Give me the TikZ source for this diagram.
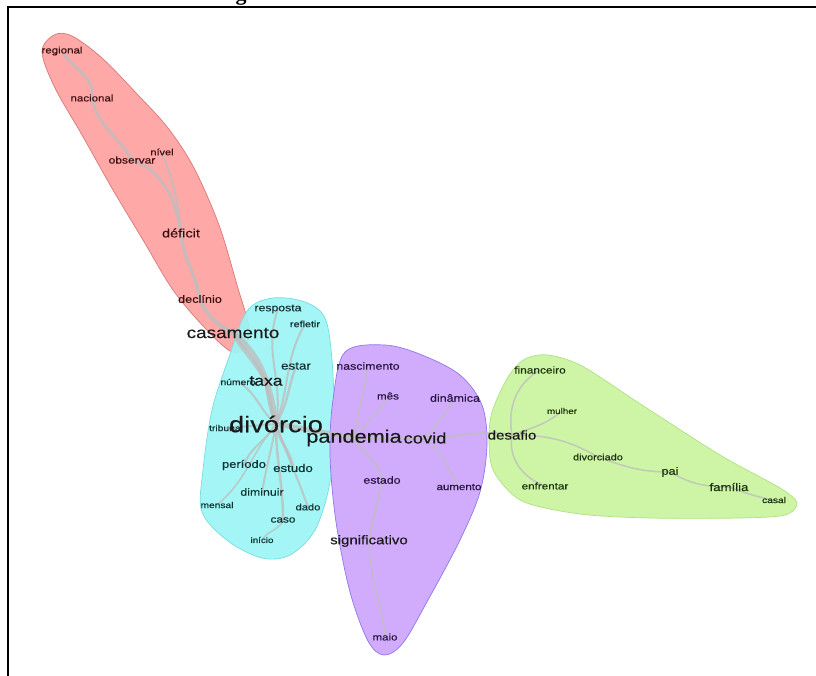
\documentclass[tikz,border=0pt]{standalone}
\usepackage{fontspec}
\newfontfamily\lab[FakeStretch=1.2,FakeBold=0.3]{Liberation Sans}
\newfontfamily\ttl{Liberation Serif}
\pgfdeclarelayer{blobs}
\pgfdeclarelayer{links}
\pgfsetlayers{blobs,links,main}
\definecolor{redfill}{RGB}{255,168,168}
\definecolor{redline}{RGB}{215,120,120}
\definecolor{cyanfill}{RGB}{156,245,245}
\definecolor{cyanline}{RGB}{120,220,225}
\definecolor{purfill}{RGB}{210,172,252}
\definecolor{purline}{RGB}{140,120,235}
\definecolor{grnfill}{RGB}{206,245,166}
\definecolor{grnline}{RGB}{175,225,130}
\definecolor{redtxt}{RGB}{60,15,15}
\definecolor{cyantxt}{RGB}{15,50,50}
\definecolor{purtxt}{RGB}{40,20,65}
\definecolor{grntxt}{RGB}{25,50,10}
\definecolor{bigtxt}{RGB}{25,25,25}
\definecolor{linkc}{RGB}{190,190,190}
\begin{document}
\begin{tikzpicture}[x=1pt,y=-1pt,
  wd/.style 2 args={font=\lab\fontsize{#1}{#1}\selectfont, text=#2, inner sep=0pt, anchor=center},
  lk/.style={draw=linkc, draw opacity=0.8, line width=#1, line cap=round},
  blob/.style={line width=0.7pt}]
\useasboundingbox (0,0) rectangle (816,675);
% frame
\draw[line width=2pt] (816,7) -- (8,7) -- (8,676);
\node[font=\ttl\bfseries\fontsize{22}{22}\selectfont, anchor=base, inner sep=0pt] (ttlg) at (241,0.5) {g};
% red cluster
\node[wd={9.6}{redtxt}] (regional) at (62,51) {regional};
\node[wd={9.6}{redtxt}] (nacional) at (92,98) {nacional};
\node[wd={9.1}{redtxt}] (nivel) at (162,152) {nível};
\node[wd={10}{redtxt}] (observar) at (132,160) {observar};
\node[wd={12.1}{redtxt}] (deficit) at (181,233) {déficit};
\node[wd={10.6}{redtxt}] (declinio) at (200,299) {declínio};
\node[wd={15.8}{bigtxt}] (casamento) at (233,333) {casamento};
% cyan cluster
\node[wd={10.2}{cyantxt}] (resposta) at (278,309) {resposta};
\node[wd={9}{cyantxt}] (refletir) at (305,324) {refletir};
\node[wd={11.2}{cyantxt}] (estar) at (296,366) {estar};
\node[wd={8.6}{cyantxt}] (numero) at (238,382) {número};
\node[wd={14.6}{bigtxt}] (taxa) at (266,381) {taxa};
\node[wd={8.6}{cyantxt}] (tribunal) at (226,428) {tribunal};
\node[wd={22.7}{bigtxt}] (divorcio) at (276,424) {divórcio};
\node[wd={10.8}{cyantxt}] (periodo) at (244,465) {período};
\node[wd={11}{cyantxt}] (estudo) at (293,468) {estudo};
\node[wd={10.3}{cyantxt}] (diminuir) at (262,492) {diminuir};
\node[wd={8.5}{cyantxt}] (mensal) at (217,505) {mensal};
\node[wd={9.3}{cyantxt}] (dado) at (308,507) {dado};
\node[wd={9.8}{cyantxt}] (caso) at (283,520) {caso};
\node[wd={8.2}{cyantxt}] (inicio) at (262,540) {início};
% purple cluster
\node[wd={10.3}{purtxt}] (nascimento) at (368,366) {nascimento};
\node[wd={9.7}{purtxt}] (mes) at (388,396) {mês};
\node[wd={10.4}{purtxt}] (dinamica) at (455,398) {dinâmica};
\node[wd={18.1}{bigtxt}] (pandemia) at (354,438) {pandemia};
\node[wd={15.3}{bigtxt}] (covid) at (425,438) {covid};
\node[wd={10.3}{purtxt}] (estado) at (382,480) {estado};
\node[wd={9.6}{purtxt}] (aumento) at (459,487) {aumento};
\node[wd={12.5}{bigtxt}] (significativo) at (369,541) {significativo};
\node[wd={9.6}{purtxt}] (maio) at (385,637) {maio};
% green cluster
\node[wd={9.9}{grntxt}] (financeiro) at (540,370) {financeiro};
\node[wd={8.2}{grntxt}] (mulher) at (562,411) {mulher};
\node[wd={12.6}{bigtxt}] (desafio) at (512,435) {desafio};
\node[wd={9.1}{grntxt}] (divorciado) at (598,457) {divorciado};
\node[wd={10.6}{grntxt}] (pai) at (670,472) {pai};
\node[wd={11}{grntxt}] (familia) at (729,487) {família};
\node[wd={9.7}{grntxt}] (enfrentar) at (545,486) {enfrentar};
\node[wd={8.5}{grntxt}] (casal) at (774,500) {casal};

\begin{pgfonlayer}{blobs}
\filldraw[blob, fill=redfill, draw=redline] plot[smooth cycle, tension=0.55] coordinates {
 (42,52) (54,35) (72,36) (102,58) (138,95) (168,128) (194,168) (219,225)
 (237,285) (249,328) (244,349) (230,351) (204,327) (173,290) (143,240)
 (113,190) (82,135) (55,88)};
\filldraw[blob, fill=cyanfill, draw=cyanline, fill opacity=0.92] plot[smooth cycle, tension=0.55] coordinates {
 (247,311) (273,298) (305,302) (325,318) (332,360) (334,420) (330,482)
 (315,530) (290,555) (262,558) (228,541) (202,512) (203,470) (212,410) (228,360)};
\filldraw[blob, fill=purfill, draw=purline] plot[smooth cycle, tension=0.55] coordinates {
 (345,352) (385,345) (422,355) (460,375) (482,405) (487,445) (480,492)
 (460,540) (428,600) (403,643) (384,655) (368,641) (350,592) (336,522)
 (330,455) (333,400)};
\filldraw[blob, fill=grnfill, draw=grnline] plot[smooth cycle, tension=0.5] coordinates {
 (492,412) (508,377) (525,359) (548,355) (582,366) (642,405) (720,455)
 (780,488) (797,503) (785,515) (740,518) (650,518) (580,514) (522,501)
 (494,472) (489,442)};
\end{pgfonlayer}

\begin{pgfonlayer}{links}
% red
\draw[lk=3] (regional.center) to[out=-60,in=80] (nacional.center);
\draw[lk=3] (nacional.center) to[out=-80,in=120] (observar.center);
\draw[lk=3] (observar.center) to[out=-20,in=100] (deficit.center);
\draw[lk=2] (nivel.center) to[out=-70,in=95] (deficit.center);
\draw[lk=3.5] (deficit.center) to[out=-85,in=100] (declinio.center);
\draw[lk=4] (declinio.center) to[out=-70,in=150] (casamento.center);
% cyan
\draw[lk=6] (casamento.center) to[out=-40,in=100] (divorcio.center);
\draw[lk=4] (casamento.center) to[out=-60,in=120] (taxa.center);
\draw[lk=4] (taxa.center) to[out=-80,in=110] (divorcio.center);
\draw[lk=2] (resposta.center) to[out=-110,in=80] (divorcio.center);
\draw[lk=2] (refletir.center) to[out=-120,in=70] (divorcio.center);
\draw[lk=2.5] (estar.center) to[out=-110,in=60] (divorcio.center);
\draw[lk=2] (numero.center) to[out=-30,in=140] (divorcio.center);
\draw[lk=2] (tribunal.center) to (divorcio.center);
\draw[lk=2] (divorcio.center) to[out=-120,in=70] (periodo.center);
\draw[lk=3] (divorcio.center) to[out=-80,in=100] (estudo.center);
\draw[lk=2] (divorcio.center) to[out=-100,in=80] (diminuir.center);
\draw[lk=1.5] (divorcio.center) to[out=-130,in=40] (mensal.center);
\draw[lk=2] (divorcio.center) to[out=-70,in=110] (dado.center);
\draw[lk=2.5] (divorcio.center) to[out=-90,in=90] (caso.center);
\draw[lk=1.5] (caso.center) to[out=-110,in=60] (inicio.center);
\draw[lk=5] (divorcio.center) to[out=-10,in=170] (pandemia.center);
% purple
\draw[lk=1.5] (pandemia.center) to[out=80,in=-100] (nascimento.center);
\draw[lk=1.5] (pandemia.center) to[out=50,in=-120] (mes.center);
\draw[lk=3] (pandemia.center) to (covid.center);
\draw[lk=2] (pandemia.center) to[out=-60,in=100] (estado.center);
\draw[lk=2] (estado.center) to[out=-100,in=80] (significativo.center);
\draw[lk=1.5] (significativo.center) to[out=-90,in=95] (maio.center);
\draw[lk=1.5] (covid.center) to[out=50,in=-120] (dinamica.center);
\draw[lk=1.5] (covid.center) to[out=-40,in=120] (aumento.center);
\draw[lk=2] (covid.center) to[out=0,in=170] (desafio.center);
% green
\draw[lk=1.5] (desafio.center) to[out=100,in=-150] (financeiro.center);
\draw[lk=1.5] (desafio.center) to[out=20,in=-140] (mulher.center);
\draw[lk=1.5] (desafio.center) to[out=0,in=150] (divorciado.center);
\draw[lk=1.5] (divorciado.center) to[out=-20,in=180] (pai.center);
\draw[lk=1.5] (pai.center) to[out=-30,in=180] (familia.center);
\draw[lk=1.5] (familia.center) to[out=-20,in=170] (casal.center);
\draw[lk=1.5] (desafio.center) to[out=-100,in=160] (enfrentar.center);
\end{pgfonlayer}
\end{tikzpicture}
\end{document}
